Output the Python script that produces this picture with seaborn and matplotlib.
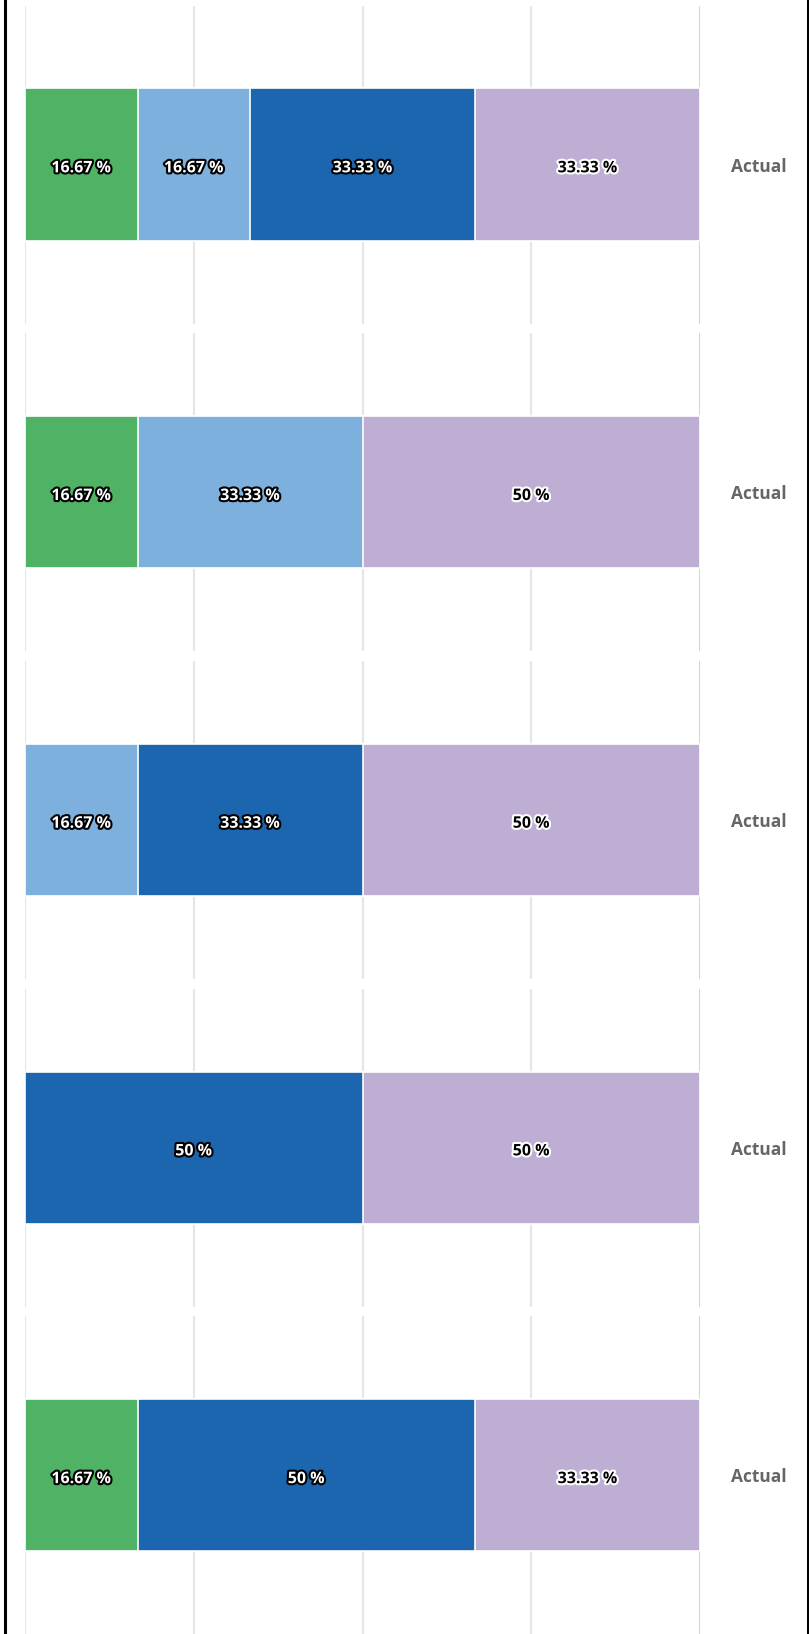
import matplotlib
matplotlib.use("Agg")
import matplotlib.pyplot as plt
import matplotlib.patheffects as pe
from matplotlib.lines import Line2D
import seaborn as sns

# --- data (one stacked bar per panel, percentages) ---
category = "Actual"
series_colors = ["#50b264", "#7eb0de", "#1b66af", "#bfaed4"]
green_values = [16.67, 16.67, 0, 0, 16.67]
light_blue_values = [16.67, 33.33, 16.67, 0, 0]
dark_blue_values = [33.33, 0, 33.33, 50, 50]
purple_values = [33.33, 50, 50, 50, 33.33]
x_ticks = [0, 25, 50, 75, 100]

series = [green_values, light_blue_values, dark_blue_values, purple_values]
# text / outline colours for labels on each series
label_fg = ["white", "white", "white", "black"]
label_bg = ["black", "black", "black", "white"]

sns.set_style("white")
plt.rcParams["font.family"] = ["Open Sans", "DejaVu Sans"]

W, H = 809, 1634
fig = plt.figure(figsize=(W / 100, H / 100), dpi=100)
fig.patch.set_facecolor("white")

panel_h = 318
for i in range(5):
    center = 164.5 + i * 327.7
    bottom = 1 - (center + panel_h / 2) / H
    ax = fig.add_axes([25 / W, bottom, 675 / W, panel_h / H])
    vals = [s[i] for s in series]
    cums = []
    total = 0
    for v in vals:
        total += v
        cums.append(total)

    # draw from the full stack down, so shorter stacks sit on top
    for j in reversed(range(4)):
        if vals[j] <= 0:
            continue
        sns.barplot(x=[cums[j]], y=[category], color=series_colors[j],
                    saturation=1, width=0.478, orient="h", errorbar=None,
                    edgecolor="white", linewidth=1.2, ax=ax, zorder=2)

    for j in range(4):
        if vals[j] <= 0:
            continue
        ax.text(cums[j] - vals[j] / 2, 0.012, f"{vals[j]:g} %", ha="center",
                va="center", fontsize=11.5, fontweight="bold", color=label_fg[j],
                path_effects=[pe.withStroke(linewidth=3, foreground=label_bg[j])],
                zorder=5)

    ax.set_xlim(0, 100)
    ax.set_ylim(0.5, -0.5)
    ax.set_xticks(x_ticks)
    ax.set_xticklabels([])
    ax.set_xlabel("")
    ax.set_ylabel("")
    ax.grid(axis="x", color="#e6e6e6", linewidth=1.5)
    ax.grid(axis="y", visible=False)
    ax.set_axisbelow(True)
    ax.axvline(100, color="#ccd6eb", linewidth=2, zorder=1)
    for sp in ax.spines.values():
        sp.set_visible(False)
    ax.yaxis.tick_right()
    ax.tick_params(axis="x", length=0)
    ax.tick_params(axis="y", length=0, pad=22, labelcolor="#666666", labelsize=12.5)
    for t in ax.get_yticklabels():
        t.set_fontweight("bold")
    ax.set_facecolor("none")

# black page borders at the left and right edges
fig.add_artist(Line2D([4.5 / W, 4.5 / W], [0, 1], color="black", linewidth=2.2))
fig.add_artist(Line2D([807.5 / W, 807.5 / W], [0, 1], color="black", linewidth=2.2))

fig.savefig("out.png", dpi=100)
